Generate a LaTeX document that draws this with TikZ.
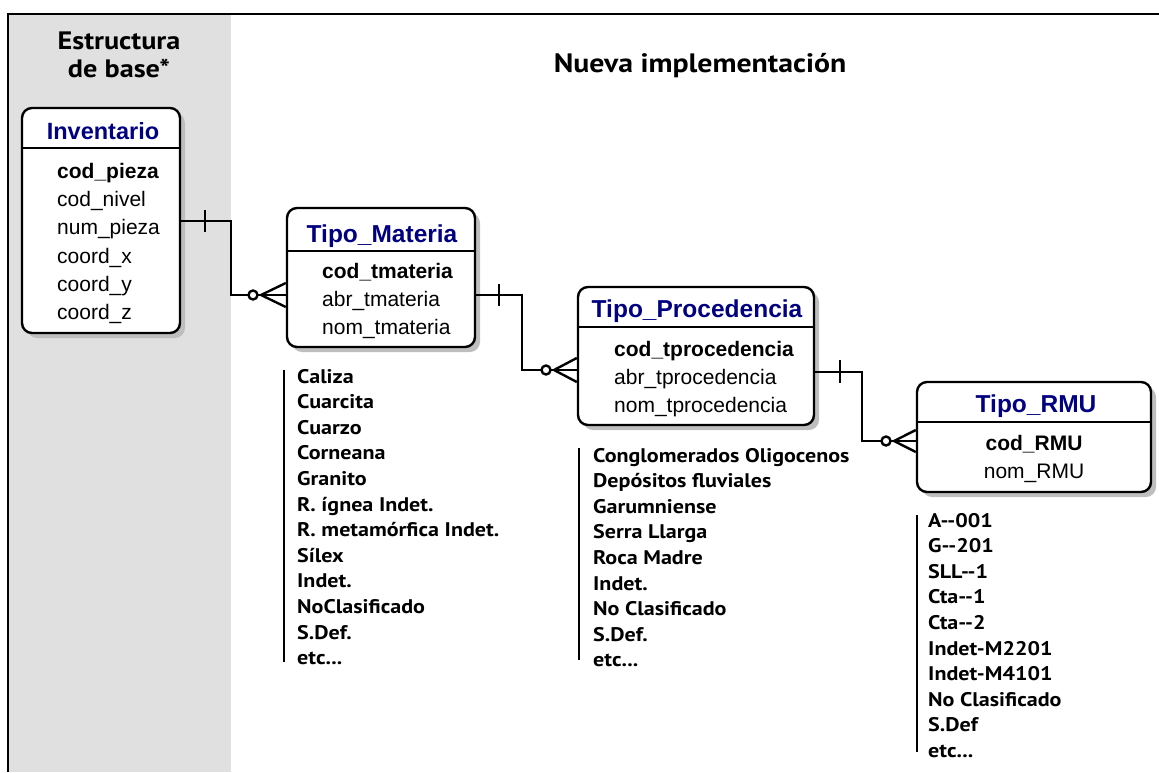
\documentclass[tikz,border=0pt]{standalone}
\usepackage{fontspec}
\setmainfont{Liberation Sans}
\newfontfamily\myr[FakeStretch=1.12]{PT Sans}
\usetikzlibrary{shadows}
\definecolor{panel}{RGB}{224,224,224}
\definecolor{ttlc}{RGB}{0,0,128}
\definecolor{shd}{RGB}{190,190,190}
\newcommand\etcx{etc.{}.{}.}
\begin{document}
\begin{tikzpicture}[x=1pt,y=-1pt,
  entity/.style={draw, line width=2.4pt, rounded corners=10pt, fill=white,
    drop shadow={shadow xshift=5pt, shadow yshift=-5pt, fill=shd, opacity=1},
    inner sep=0pt},
  sep/.style={line width=2pt},
  ttl/.style={font=\fontsize{24.5}{29}\selectfont\bfseries, text=ttlc, anchor=base, inner sep=0pt},
  fld/.style={font=\fontsize{21}{25}\selectfont, anchor=base west, inner sep=0pt},
  keyf/.style={font=\fontsize{21}{25}\selectfont\bfseries, anchor=base west, inner sep=0pt},
  item/.style={font=\myr\fontsize{19.7}{23}\selectfont\bfseries, anchor=base west, inner sep=0pt},
  head/.style={font=\myr\fontsize{25.2}{30}\selectfont\bfseries, anchor=base, inner sep=0pt},
  conn/.style={line width=2.4pt},
  bar/.style={line width=2.4pt},
]
\useasboundingbox (0,0) rectangle (1159,772);
% background panel and frame
\fill[panel] (8,14) rectangle (231,772);
\draw[line width=2pt] (8,772) -- (8,14) -- (1159,14);

% headings
\node[head] (h1) at (119,49) {Estructura};
\node[head] (h2) at (119,77) {de base*};
\node[head, font=\myr\fontsize{26.6}{32}\selectfont\bfseries] (h3) at (700,72) {Nueva implementación};

% entities
\node[entity, minimum width=158pt, minimum height=225pt] (inv) at (101,220.5) {};
\node[entity, minimum width=188pt, minimum height=139pt] (mat) at (381,277.5) {};
\node[entity, minimum width=236pt, minimum height=138pt] (proc) at (696,356) {};
\node[entity, minimum width=234pt, minimum height=110pt] (rmu) at (1034,437) {};

% header separators
\draw[sep] (inv.west |- 0,148) -- (inv.east |- 0,148);
\draw[sep] (mat.west |- 0,251) -- (mat.east |- 0,251);
\draw[sep] (proc.west |- 0,327) -- (proc.east |- 0,327);
\draw[sep] (rmu.west |- 0,422) -- (rmu.east |- 0,422);

% titles
\node[ttl, font=\fontsize{23.5}{28}\selectfont\bfseries] (t1) at (103,139) {Inventario};
\node[ttl] (t2) at (382,242) {Tipo\_Materia};
\node[ttl] (t3) at (697,317) {Tipo\_Procedencia};
\node[ttl] (t4) at (1036,412) {Tipo\_RMU};

% fields
\node[keyf] (f11) at (57,178) {cod\_pieza};
\node[fld] (f12) at (57,206) {cod\_nivel};
\node[fld] (f13) at (57,234) {num\_pieza};
\node[fld] (f14) at (57,263) {coord\_x};
\node[fld] (f15) at (57,291) {coord\_y};
\node[fld] (f16) at (57,319) {coord\_z};

\node[keyf] (f21) at (322,278) {cod\_tmateria};
\node[fld] (f22) at (322,306) {abr\_tmateria};
\node[fld] (f23) at (322,334) {nom\_tmateria};

\node[keyf] (f31) at (614,356) {cod\_tprocedencia};
\node[fld] (f32) at (614,384) {abr\_tprocedencia};
\node[fld] (f33) at (614,412) {nom\_tprocedencia};

\node[keyf, anchor=base] (f41) at (1034,450) {cod\_RMU};
\node[fld, anchor=base] (f42) at (1034,478) {nom\_RMU};

% connectors
\coordinate (a1) at (231,221);
\coordinate (b1) at (231,295);
\draw[conn] (inv.east |- a1) -- (a1) -- (b1) -- (mat.west |- b1);
\draw[conn] (205,210) -- (205,232);
\draw[conn] (mat.west |- 0,283) -- (261,295) -- (mat.west |- 0,307);
\draw[conn, fill=white] (253,295) circle (4.5pt);

\coordinate (a2) at (522,295);
\coordinate (b2) at (522,370);
\draw[conn] (mat.east |- a2) -- (a2) -- (b2) -- (proc.west |- b2);
\draw[conn] (499,284) -- (499,306);
\draw[conn] (proc.west |- 0,358) -- (554,370) -- (proc.west |- 0,382);
\draw[conn, fill=white] (546,370) circle (4.5pt);

\coordinate (a3) at (862,372);
\coordinate (b3) at (862,441);
\draw[conn] (proc.east |- a3) -- (a3) -- (b3) -- (rmu.west |- b3);
\draw[conn] (840,360) -- (840,383);
\draw[conn] (rmu.west |- 0,430) -- (894,441) -- (rmu.west |- 0,452);
\draw[conn, fill=white] (886,441) circle (4.5pt);

% value lists
\draw[bar] (284,370) -- (284,662);
\foreach \t [count=\i] in {Caliza, Cuarcita, Cuarzo, Corneana, Granito, R. ígnea Indet., R. metamórfica Indet., Sílex, Indet., NoClasificado, S.Def., \etcx}
  \node[item] (la\i) at (297,{383+25.6*(\i-1)}) {\t};

\draw[bar] (579,448) -- (579,660);
\foreach \t [count=\i] in {Conglomerados Oligocenos, Depósitos fluviales, Garumniense, Serra Llarga, Roca Madre, Indet., No Clasificado, S.Def., \etcx}
  \node[item] (lb\i) at (593,{462+25.6*(\i-1)}) {\t};

\draw[bar] (917,515) -- (917,752);
\foreach \t [count=\i] in {A-{}-001, G-{}-201, SLL-{}-1, Cta-{}-1, Cta-{}-2, Indet-M2201, Indet-M4101, No Clasificado, S.Def, \etcx}
  \node[item] (lc\i) at (928,{527+25.6*(\i-1)}) {\t};
\end{tikzpicture}
\end{document}
